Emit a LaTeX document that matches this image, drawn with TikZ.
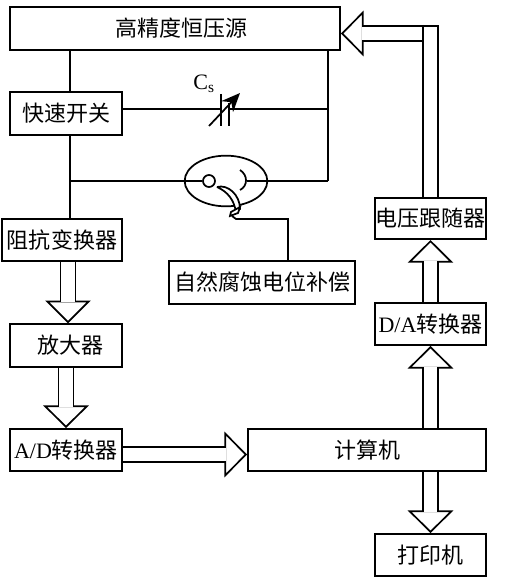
\documentclass[tikz,border=0pt]{standalone}
\usepackage{fontspec}
\setmainfont{Liberation Serif}
\newfontfamily\cjk{Noto Sans CJK SC}
\usepackage{tikz}
\usetikzlibrary{arrows.meta,calc,shapes.geometric}
\tikzset{
  blockbox/.style={draw,line width=1.3pt,inner sep=0pt,align=center,
                   font=\cjk\fontsize{16.5}{18}\selectfont},
  wire/.style={line width=1.3pt},
  blockarrow/.style={line width=12.55pt,
                     -{Triangle[open,fill=white,length=17pt,width=34pt,line width=1.3pt]},
                     postaction={draw,white,line width=9.95pt,-,shorten >=16pt}},
}

\begin{document}
\begin{tikzpicture}[x=0.75pt,y=-0.75pt]
  \useasboundingbox (0,0) rectangle (505,584);
  \node[blockbox,minimum width=247.5pt,minimum height=32pt]
    (src)at(175,28.5) {\hspace*{9pt}高精度恒压源};
  \node[blockbox,minimum width=84pt,minimum height=32pt]
    (sw)at(66,113.5) {快速开关};
  \node[blockbox,minimum width=90pt,minimum height=31.5pt]
    (zk)at(62,240) {阻抗变换器};
  \node[blockbox,minimum width=84pt,minimum height=32pt]
    (fd)at(66,345.5) {\hspace*{6pt}放大器};
  \node[blockbox,minimum width=84pt,minimum height=31.5pt]
    (ad)at(66,450) {{\rmfamily A/D}转换器};
  \node[blockbox,minimum width=178.5pt,minimum height=31.5pt]
    (js)at(367,450) {计算机};
  \node[blockbox,minimum width=83.25pt,minimum height=31.5pt]
    (dy)at(430.5,555) {打印机};
  \node[blockbox,minimum width=83.25pt,minimum height=31.5pt]
    (da)at(430.5,324) {{\rmfamily D/A}转换器};
  \node[blockbox,minimum width=83.25pt,minimum height=31pt]
    (gs)at(430.5,218.5) {电压跟随器};
  \node[blockbox,minimum width=139.5pt,minimum height=32pt]
    (bc)at(262,282.5) {自然腐蚀电位补偿};
  \node[font=\fontsize{16.5}{18}\selectfont,inner sep=0pt] (cs)at(204,84) {C\textsubscript{s}};
  \node[draw,ellipse,line width=1.3pt,minimum width=62pt,minimum height=38pt,inner sep=0pt]
    (cell)at(226,181) {};
  \node[draw,circle,line width=1.3pt,minimum size=9pt,inner sep=0pt,fill=white]
    (we)at(209,181) {};

  \coordinate (n1)at(70,181);
  \coordinate (n2)at(328,181);
  \coordinate (n3)at(328,109);
  \coordinate (c1)at(221,109);
  \coordinate (c2)at(229,109);
  \coordinate (ce)at(247,181);
  \coordinate (re)at(232,216);
  \coordinate (bt)at($(bc.north)+(26,0)$);
  \coordinate (t1)at(423,25);
  \coordinate (t2)at(423,42);

  \draw[wire](src.south -| n1)--(sw.north -| n1);
  \draw[wire](sw.south -| n1)--(zk.north -| n1);
  \draw[wire](n1)--(we);
  \draw[wire](ce)--(n2);
  \draw[wire](src.south -| n2)--(n2);
  \draw[wire](sw.east |- n3)--(c1);
  \draw[wire](c2)--(n3);
  \draw[line width=1.5pt](221,94)--(221,126);
  \draw[line width=1.5pt](229,103)--(229,126);
  \draw[wire,-{Stealth[length=14pt,width=12pt]}](209,126)--(240,93);
  \draw[wire](240,170) .. controls (248,175) and (248,186) .. (240,190);
  \draw[wire,fill=white](217,187) .. controls (228,184) and (240,195) .. (240,209)
    -- (236,212) .. controls (234,200) and (228,192) .. (217,187);
  \draw[wire,fill=white](231,212)--(240,207)--(238,213)--(230,216)--cycle;
  \draw[wire](re)--(236,219)-|(bt);

  \draw[blockarrow]($(zk.south)+(6,0)$)--($(fd.north)+(2,0)$);
  \draw[blockarrow](fd.south)--(ad.north);
  \draw[blockarrow]($(ad.east)+(0,4.5)$)--($(js.west)+(0,4.5)$);
  \draw[blockarrow](js.north -| da.south)--(da.south);
  \draw[blockarrow](da.north)--(gs.south);
  \draw[blockarrow](js.south -| dy.north)--(dy.north);
  \draw[blockarrow](gs.north) |- ($(src.east)+(0,5)$);
  \draw[wire](t1)--(t2);
\end{tikzpicture}
\end{document}
